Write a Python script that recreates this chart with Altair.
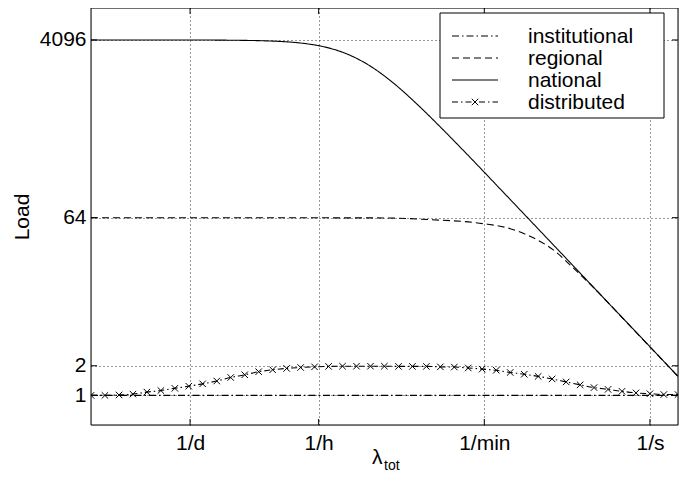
import altair as alt
import pandas as pd

# ---------------- data (rates in 1/s, loads) ----------------
nat_x = [1e-6, 1e-5, 3.16e-5, 1e-4, 1.78e-4, 3.16e-4, 5.62e-4, 1.0e-3, 1.78e-3,
         3.16e-3, 5.62e-3, 1.0e-2, 3.16e-2, 0.1, 0.316, 1.0, 2.0]
nat_y = [4096, 4096, 4073, 3970, 3813, 3495, 2947, 2216, 1483,
         912, 535, 306.6, 98.0, 31.1, 9.86, 3.12, 1.56]

reg_x = [1e-6, 1e-4, 3.16e-4, 1.36e-3, 4.36e-3, 1.61e-2, 3.16e-2, 5.15e-2, 9.1e-2,
         0.149, 0.251, 0.5, 1.0, 2.0]
reg_y = [64, 64, 63.8, 63.6, 61.1, 55.7, 49.5, 41.4, 30.3,
         19.9, 12.3, 6.2, 3.12, 1.56]

inst_x = [1e-6, 2.0]
inst_y = [1, 1]

dist_x = [1.00e-6, 1.41e-6, 2.00e-6, 2.82e-6, 3.98e-6, 5.62e-6, 7.94e-6, 1.12e-5, 1.58e-5,
          2.24e-5, 3.16e-5, 4.47e-5, 6.31e-5, 8.91e-5, 1.26e-4, 1.78e-4, 2.51e-4, 3.55e-4,
          5.01e-4, 7.08e-4, 1.00e-3, 1.41e-3, 2.00e-3, 2.82e-3, 3.98e-3, 5.62e-3, 7.94e-3,
          1.12e-2, 1.58e-2, 2.24e-2, 3.16e-2, 4.47e-2, 6.31e-2, 8.91e-2, 0.126, 0.178, 0.251,
          0.355, 0.501, 0.708, 1.00, 1.41, 2.00]
dist_y = [1.00, 1.00, 1.01, 1.03, 1.08, 1.12, 1.18, 1.24, 1.31,
          1.40, 1.52, 1.62, 1.74, 1.82, 1.88, 1.92, 1.95, 1.97,
          1.98, 1.98, 1.98, 1.98, 1.97, 1.97, 1.97, 1.95, 1.94,
          1.90, 1.85, 1.80, 1.71, 1.64, 1.56, 1.47, 1.37, 1.28, 1.20,
          1.15, 1.10, 1.06, 1.04, 1.02, 1.02]

series_names = ["institutional", "regional", "national", "distributed"]

x_ticks = [1 / 86400, 1 / 3600, 1 / 60, 1.0]
x_tick_labels = ["1/d", "1/h", "1/min", "1/s"]
y_ticks = [1, 2, 64, 4096]

# ---------------- layout / style ----------------
W, H = 587, 417
FONT = "Liberation Sans"
FS = 21
MSIZE = 42
dashes = {
    "institutional": [7, 3, 1.5, 3],
    "regional": [7, 4],
    "national": [1, 0],
    "distributed": [6, 3, 1.5, 3],
}
XSHAPE = "M-1,-1L1,1M-1,1L1,-1"

label_expr = " : ".join(
    f"datum.value < {(x_ticks[i] + x_ticks[i + 1]) / 2} ? '{x_tick_labels[i]}'"
    for i in range(len(x_ticks) - 1)
) + f" : '{x_tick_labels[-1]}'"

xscale = alt.Scale(type="log", domain=[1e-6, 2], nice=False, zero=False)
yscale = alt.Scale(type="log", base=2, domain=[0.5, 8656], nice=False, zero=False)

x_axis = alt.Axis(values=x_ticks, labelExpr=label_expr, grid=True, ticks=False, tickSize=0,
                  domain=False, labelFontSize=FS, labelFont=FONT, labelColor="black",
                  labelPadding=7, gridDash=[1, 3], gridColor="black", gridOpacity=0.8,
                  labelFlush=False, title=None)
y_axis = alt.Axis(values=y_ticks, format="d", grid=True, ticks=False, tickSize=0,
                  domain=False, labelFontSize=FS, labelFont=FONT, labelColor="black",
                  labelPadding=5, gridDash=[1, 3], gridColor="black", gridOpacity=0.8,
                  title="Load", titleFontSize=FS, titleFont=FONT, titleFontWeight="normal",
                  titleColor="black", titlePadding=7)

X = lambda: alt.X("x:Q", scale=xscale, axis=x_axis)
Y = lambda: alt.Y("y:Q", scale=yscale, axis=y_axis)


def df(xs, ys):
    return pd.DataFrame({"x": xs, "y": ys})


def line_layer(xs, ys, name):
    return alt.Chart(df(xs, ys)).mark_line(
        color="black", strokeWidth=1.1, strokeDash=dashes[name], clip=True, interpolate="monotone"
    ).encode(x=X(), y=Y())


nat = line_layer(nat_x, nat_y, "national")
reg = line_layer(reg_x, reg_y, "regional")
inst = line_layer(inst_x, inst_y, "institutional")
dist = line_layer(dist_x, dist_y, "distributed")
dist_pts = alt.Chart(df(dist_x, dist_y)).mark_point(
    shape=XSHAPE, size=MSIZE, filled=False, color="black", strokeWidth=1, opacity=1, clip=True
).encode(x=X(), y=Y())

one = pd.DataFrame({"a": [0]})

# plot frame
frame = alt.Chart(one).mark_rect(fill=None, stroke="black", strokeWidth=1).encode(
    x=alt.value(0), x2=alt.value(W), y=alt.value(0), y2=alt.value(H))

# inward tick marks (MATLAB style)
TL = 6
xt = pd.DataFrame({"x": x_ticks})
yt = pd.DataFrame({"y": y_ticks})
tick_style = dict(color="black", strokeWidth=1)
ticks = [
    alt.Chart(xt).mark_rule(**tick_style).encode(x=X(), y=alt.value(H), y2=alt.value(H - TL)),
    alt.Chart(xt).mark_rule(**tick_style).encode(x=X(), y=alt.value(0), y2=alt.value(TL)),
    alt.Chart(yt).mark_rule(**tick_style).encode(y=Y(), x=alt.value(0), x2=alt.value(TL)),
    alt.Chart(yt).mark_rule(**tick_style).encode(y=Y(), x=alt.value(W), x2=alt.value(W - TL)),
]

# legend (drawn inside the plot, top-right)
LX0, LX1, LY0, LY1 = 349, 573, 5, 110
legend_layers = [
    alt.Chart(one).mark_rect(fill="white", stroke="black", strokeWidth=1).encode(
        x=alt.value(LX0), x2=alt.value(LX1), y=alt.value(LY0), y2=alt.value(LY1))
]
for i, name in enumerate(series_names):
    ry = 28 + 22 * i
    legend_layers.append(
        alt.Chart(one).mark_rule(color="black", strokeWidth=1.1, strokeDash=dashes[name]).encode(
            x=alt.value(361), x2=alt.value(407), y=alt.value(ry)))
    legend_layers.append(
        alt.Chart(one).mark_text(text=name, align="left", baseline="middle", font=FONT,
                                 fontSize=FS, color="black").encode(
            x=alt.value(437), y=alt.value(ry + 1)))
    if name == "distributed":
        legend_layers.append(
            alt.Chart(one).mark_point(shape=XSHAPE, size=MSIZE, filled=False, color="black",
                                      strokeWidth=1, opacity=1).encode(
                x=alt.value(384), y=alt.value(ry)))

# x-axis title: lambda with subscript "tot"
xtitle = [
    alt.Chart(one).mark_text(text="λ", align="left", baseline="alphabetic", font=FONT,
                             fontSize=FS, color="black").encode(x=alt.value(281), y=alt.value(456)),
    alt.Chart(one).mark_text(text="tot", align="left", baseline="alphabetic", font=FONT,
                             fontSize=14, color="black").encode(x=alt.value(293), y=alt.value(462)),
]

chart = alt.layer(
    nat, reg, inst, dist, dist_pts, frame, *ticks, *legend_layers, *xtitle
).properties(
    width=W, height=H,
    autosize=alt.AutoSizeParams(type="none"),
    padding={"left": 83, "top": 0, "right": 4, "bottom": 49},
).configure_view(
    stroke=None
).configure(background="white")

chart.save("out.html", embed_options={"renderer": "svg", "actions": False})
